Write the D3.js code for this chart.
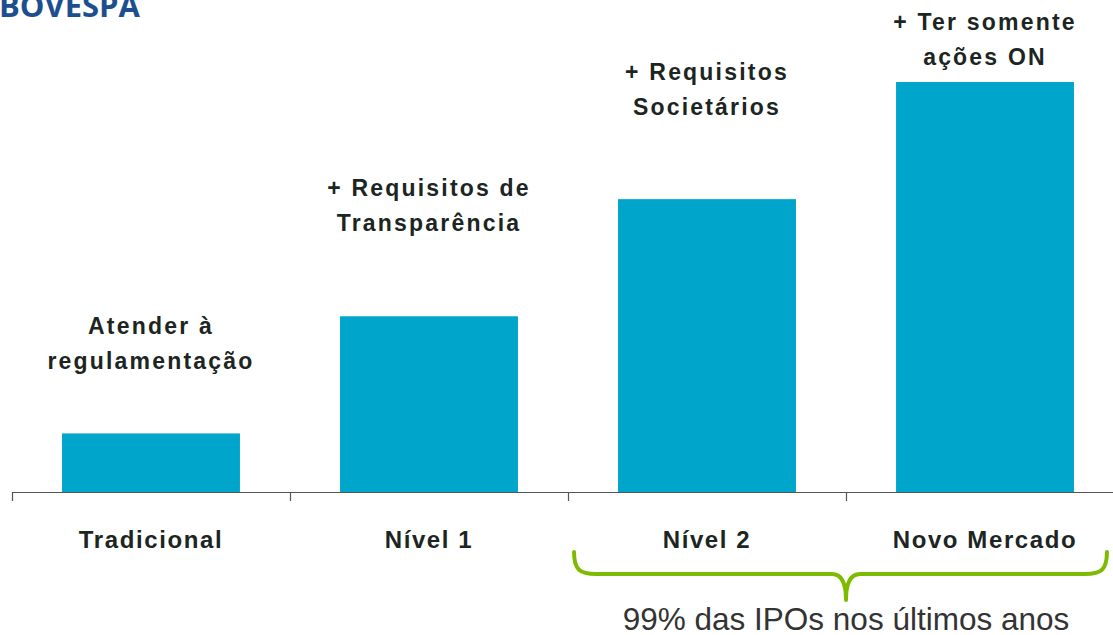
<!DOCTYPE html>
<html>
<head>
<meta charset="utf-8">
<script src="https://cdn.jsdelivr.net/npm/d3@7"></script>
<style>
  html, body { margin: 0; padding: 0; background: #fff; overflow: hidden; }
</style>
</head>
<body>
<div id="chart"></div>
<script>
// ---- data ----
const categories = ['Tradicional', 'Nível 1', 'Nível 2', 'Novo Mercado']
const levels = [1, 3, 5, 7]
const requirements = [
  ['Atender à', 'regulamentação'],
  ['+ Requisitos de', 'Transparência'],
  ['+ Requisitos', 'Societários'],
  ['+ Ter somente', 'ações ON']
]
const bracketCategories = ['Nível 2', 'Novo Mercado']
const bracketNote = '99% das IPOs nos últimos anos'
const title = 'BOVESPA'

// ---- layout ----
const W = 1113, H = 635
const baseY = 492, topY = 82
const barColor = '#00A5CC'
const textColor = '#1C2522'
// gap (px) between bar top and the last annotation baseline
const annotGap = [64, 85, 84, 17]

const svg = d3.select('#chart').append('svg')
  .attr('width', W).attr('height', H)

const x = d3.scaleBand()
  .domain(categories)
  .range([12, 1124])
  .paddingInner(0.36)
  .paddingOuter(0.18)

const y = d3.scaleLinear()
  .domain([0, d3.max(levels)])
  .range([baseY, topY])

// title (cut at the top edge)
svg.append('text')
  .attr('x', -1).attr('y', 17)
  .attr('fill', '#1D4F8F')
  .attr('font-family', '"Open Sans", sans-serif')
  .attr('font-weight', 700)
  .attr('font-size', '31px')
  .text(title)

// bars
const data = categories.map((c, i) => ({ cat: c, value: levels[i], lines: requirements[i], gap: annotGap[i] }))

svg.append('g').selectAll('rect')
  .data(data)
  .join('rect')
  .attr('x', d => x(d.cat))
  .attr('y', d => y(d.value))
  .attr('width', x.bandwidth())
  .attr('height', d => baseY - y(d.value))
  .attr('fill', barColor)

// axis: baseline with ticks at band boundaries
const step = x.step()
const edge = c => x(c) - x.paddingOuter() * step
const axisG = svg.append('g').attr('stroke', '#555').attr('stroke-width', 1.2)
axisG.append('line')
  .attr('x1', edge(categories[0])).attr('x2', edge(categories[0]) + step * categories.length)
  .attr('y1', baseY + 0.5).attr('y2', baseY + 0.5)
axisG.selectAll('.tick')
  .data(d3.range(categories.length + 1))
  .join('line')
  .attr('class', 'tick')
  .attr('x1', i => edge(categories[0]) + i * step + 0.5)
  .attr('x2', i => edge(categories[0]) + i * step + 0.5)
  .attr('y1', baseY).attr('y2', baseY + 9)

// category labels
svg.append('g').selectAll('text')
  .data(data)
  .join('text')
  .attr('x', d => x(d.cat) + x.bandwidth() / 2)
  .attr('y', 548)
  .attr('text-anchor', 'middle')
  .attr('fill', textColor)
  .attr('font-family', '"Liberation Sans", Arial, sans-serif')
  .attr('font-weight', 700)
  .attr('font-size', '24px')
  .attr('letter-spacing', '1.6px')
  .text(d => d.cat)

// requirement annotations above bars
const annot = svg.append('g').selectAll('text')
  .data(data)
  .join('text')
  .attr('text-anchor', 'middle')
  .attr('fill', textColor)
  .attr('font-family', '"Liberation Sans", Arial, sans-serif')
  .attr('font-weight', 700)
  .attr('font-size', '23px')
  .attr('letter-spacing', '2.2px')

annot.selectAll('tspan')
  .data(d => d.lines.map((t, k) => ({ t, k, d })))
  .join('tspan')
  .attr('x', o => x(o.d.cat) + x.bandwidth() / 2)
  .attr('y', o => y(o.d.value) - o.d.gap - (o.d.lines.length - 1 - o.k) * 35)
  .text(o => o.t)

// bracket under the last two categories
const bx0 = x(bracketCategories[0]) - 44
const bx1 = x(bracketCategories[1]) + x.bandwidth() + 33
const bmid = (x(bracketCategories[0]) + x(bracketCategories[1]) + x.bandwidth()) / 2
const bTop = 552, bLine = 574, bTip = 600, r = 14
const path = d3.path()
path.moveTo(bx0, bTop)
path.bezierCurveTo(bx0, bLine - 4, bx0 + 6, bLine, bx0 + r + 8, bLine)
path.lineTo(bmid - r, bLine)
path.quadraticCurveTo(bmid, bLine, bmid, bTip)
path.quadraticCurveTo(bmid, bLine, bmid + r, bLine)
path.lineTo(bx1 - r - 8, bLine)
path.bezierCurveTo(bx1 - 6, bLine, bx1, bLine - 4, bx1, bTop)

svg.append('path')
  .attr('d', path.toString())
  .attr('fill', 'none')
  .attr('stroke', '#7DBB00')
  .attr('stroke-width', 4)
  .attr('stroke-linecap', 'round')
  .attr('stroke-linejoin', 'round')

svg.append('text')
  .attr('x', bmid)
  .attr('y', 630)
  .attr('text-anchor', 'middle')
  .attr('fill', '#333')
  .attr('font-family', '"Liberation Sans", Arial, sans-serif')
  .attr('font-size', '31.5px')
  .text(bracketNote)
</script>
</body>
</html>
